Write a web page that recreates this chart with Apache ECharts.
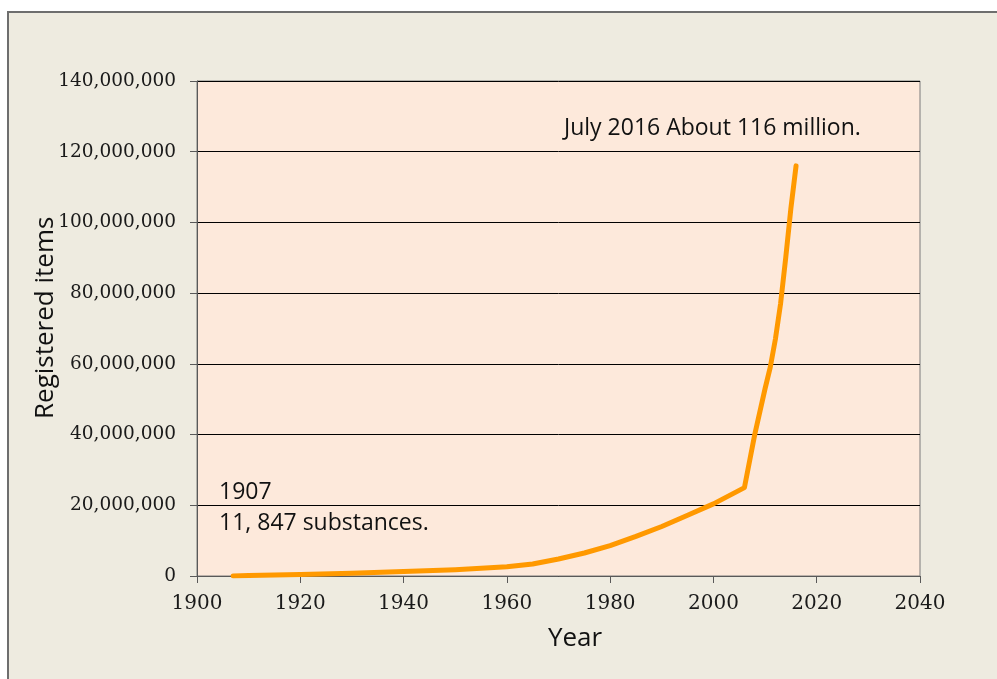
<!DOCTYPE html>
<html lang="en">
<head>
<meta charset="utf-8">
<title>Registered items</title>
<script src="https://cdn.jsdelivr.net/npm/echarts@6/dist/echarts.min.js"></script>
<style>
	html, body { margin: 0; padding: 0; background: #fff; }
	#chart { width: 997px; height: 679px; }
</style>
</head>
<body>
<div id="chart"></div>
<script>
// registered items per year
var years = [1907, 1910, 1920, 1930, 1940, 1950, 1960, 1965, 1970, 1975, 1980, 1985, 1990, 1995, 2000, 2006, 2008, 2010, 2011, 2012, 2013, 2014, 2015, 2016];
var items = [11847, 150000, 450000, 800000, 1300000, 1800000, 2600000, 3400000, 4800000, 6500000, 8600000, 11200000, 14000000, 17200000, 20400000, 25000000, 40000000, 53000000, 59000000, 67000000, 77000000, 90000000, 104000000, 116000000];
var xTicks = [1900, 2040, 20];
var yTicks = [0, 140000000, 20000000];

var chart = echarts.init(document.getElementById('chart'));
var labelFont = 'DejaVu Serif';

chart.setOption({
	animation: false,
	backgroundColor: '#ffffff',
	graphic: [
		// outer panel
		{ type: 'rect', z: -10, shape: { x: 8, y: 12, width: 1000, height: 700 },
		  style: { fill: '#eeebe0', stroke: '#6e6e6e', lineWidth: 2 } },
		{ type: 'text', x: 33, y: 419, rotation: Math.PI / 2, z: 10,
		  style: { text: 'Registered items', font: '26px "Open Sans"', fill: '#111' } },
		{ type: 'text', x: 575, y: 639, z: 10,
		  style: { text: 'Year', font: '26px "Open Sans"', fill: '#111', align: 'center', verticalAlign: 'middle' } },
		{ type: 'text', x: 219, y: 492, z: 10,
		  style: { text: '1907', font: '23px "Open Sans"', fill: '#111', verticalAlign: 'middle' } },
		{ type: 'text', x: 219, y: 523, z: 10,
		  style: { text: '11, 847 substances.', font: '23px "Open Sans"', fill: '#111', verticalAlign: 'middle' } },
		{ type: 'text', x: 564, y: 128, z: 10,
		  style: { text: 'July 2016 About 116 million.', font: '23px "Open Sans"', fill: '#111', verticalAlign: 'middle' } }
	],
	grid: {
		left: 197, right: 77, top: 81, bottom: 103,
		show: true, backgroundColor: '#fde9db', borderColor: '#7a7a7a', borderWidth: 1
	},
	xAxis: {
		type: 'value', min: xTicks[0], max: xTicks[1], interval: xTicks[2],
		axisLine: { show: true, onZero: false, lineStyle: { color: '#595959', width: 1 } },
		axisTick: { show: true, length: 7, lineStyle: { color: '#595959' } },
		axisLabel: {
			margin: 18, fontFamily: labelFont, fontSize: 20, color: '#1a1a1a',
			formatter: function (v) { return String(v); }
		},
		splitLine: { show: false }
	},
	yAxis: {
		type: 'value', min: yTicks[0], max: yTicks[1], interval: yTicks[2],
		axisLine: { show: true, lineStyle: { color: '#595959', width: 1 } },
		axisTick: { show: true, length: 7, lineStyle: { color: '#595959' } },
		axisLabel: {
			margin: 21, fontFamily: labelFont, fontSize: 18.5, color: '#1a1a1a',
			formatter: function (v) { return v.toLocaleString('en-US'); }
		},
		splitLine: { show: true, lineStyle: { color: '#000', width: 1 } }
	},
	series: [{
		type: 'line',
		data: years.map(function (y, i) { return [y, items[i]]; }),
		showSymbol: false,
		smooth: false,
		lineStyle: { color: '#ff9900', width: 5, cap: 'round', join: 'round' }
	}]
});
</script>
</body>
</html>
